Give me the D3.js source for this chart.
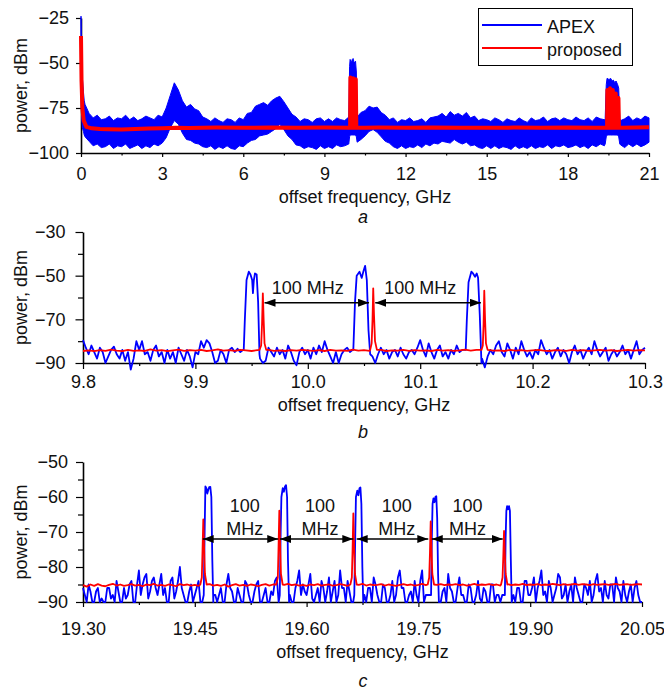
<!DOCTYPE html>
<html>
<head>
<meta charset="utf-8">
<script src="https://cdn.jsdelivr.net/npm/d3@7"></script>
<style>
  body { margin: 0; background: #fff; }
</style>
</head>
<body>
<div id="chart"></div>
<script>
// ---------- panel a: full span 0..21 GHz (noise band envelopes, 0.15 GHz grid) ----------
const aGridStep = 0.15;
const aApexHi = [
  -73,-78,-80.5,-79,-81.5,-81,-79.5,-82,-80.5,-81,
  -79,-81.5,-80,-82,-81,-79.5,-80.5,-81.5,-79,-80,
  -75,-68,-61,-65,-71,-74.5,-73,-75.5,-76.5,-80,
  -81,-82.5,-80.5,-82,-83,-81,-81.5,-83,-80.5,-81.5,
  -78,-77.5,-74,-73,-72,-73.5,-71,-69.5,-68.5,-71.5,
  -75,-78.5,-80,-82.5,-81,-81.5,-83,-81,-80.5,-82.5,
  -81,-82.5,-80.5,-81.5,-82,-80,-80,-81,-77.5,-76.5,
  -74,-75,-74.5,-77.5,-79,-81.5,-80.5,-83,-81.5,-82,
  -80.5,-82.5,-82,-81,-83,-80.5,-80,-79.5,-78,-80,
  -77,-79,-78,-79.5,-77.5,-80.5,-79.5,-82,-81,-81.5,
  -82.5,-80.5,-81.5,-83,-81,-82,-82.5,-80.5,-82,-83,
  -80.5,-82,-81.5,-80,-82.5,-81,-80.5,-82,-80.5,-81.5,
  -82,-80,-81.5,-82,-80.5,-82.5,-80,-81,-81.5,-81,
  -81,-80,-82,-81,-79.5,-82,-80.5,-81.5,-79.5,-80.5
];
const aApexLo = [
  -91,-93.5,-96,-95,-97,-96.5,-95,-97.5,-96,-96.5,
  -95,-97.5,-96.5,-95.5,-97.5,-96,-97,-95,-96,-94.5,
  -91.5,-86,-82,-84,-89,-92.5,-93,-94.5,-95,-96.5,
  -97,-96,-98,-96.5,-97.5,-96,-97.5,-98,-96,-96.5,
  -94.5,-93,-92.5,-90.5,-90,-89.5,-88,-86.5,-84,-87,
  -90.5,-92.5,-95.5,-96,-97.5,-96.5,-97,-98,-96,-97.5,
  -96.5,-97.5,-95.5,-96.5,-96,-95,-94,-95,-92.5,-90.5,
  -88,-87,-88.5,-91,-93.5,-94.5,-96.5,-97.5,-96,-97.5,
  -96.5,-97,-95.5,-97,-95,-96,-94.5,-95,-93.5,-94,
  -94.5,-92.5,-94,-95,-94,-96,-95.5,-97,-97.5,-96,
  -97.5,-96,-97.5,-96.5,-97,-98,-96,-97.5,-96.5,-97.5,
  -96,-97.5,-96.5,-97,-95.5,-97.5,-96,-96.5,-95.5,-97,
  -96.5,-95.5,-97,-96,-97.5,-95.5,-96.5,-95,-96,-95.5,
  -95,-96,-95.5,-97,-95,-96.5,-95,-96.5,-95.5,-94
];
// near-zero carrier leakage
const aNearFreq = [0, 0.02, 0.05, 0.09, 0.12];
const aNearHi = [-24, -45, -58, -66, -71];
const aNearLo = [-60, -80, -86, -88, -90];
// spur clusters near 10 GHz and 19.5 GHz
const aSpurFreq = [9.90, 9.93, 9.95, 9.99, 10.03, 10.06, 10.10, 10.15, 10.18, 10.21,
  19.38, 19.42, 19.45, 19.50, 19.55, 19.58, 19.64, 19.68, 19.74, 19.78, 19.84, 19.88, 19.92];
const aSpurHi = [-80, -52, -48, -50, -48, -47.5, -50, -49, -55, -80,
  -81, -62, -58.5, -59, -59, -58.5, -60, -59.5, -61, -60, -62, -64, -81];
const aSpurLo = [-95, -91, -90, -90, -90, -90, -90, -90, -91, -94,
  -95, -91, -90, -90, -90, -90, -90, -90, -90, -90, -90, -91, -95];
// proposed (red)
const aPropFreq = [0, 0.02, 0.05, 0.1, 0.2, 0.4, 0.7, 1.0, 1.5, 2.0,
  2.5, 3.0, 3.5, 4.0, 5.0, 6.0, 7.0, 8.0, 9.0, 9.93,
  9.95, 9.96, 9.98, 10.04, 10.06, 10.08, 10.14, 10.16, 10.18, 10.5,
  11, 12, 13, 14, 15, 16, 17, 18, 19, 19.43,
  19.45, 19.46, 19.48, 19.54, 19.56, 19.58, 19.64, 19.66, 19.68, 19.75,
  19.77, 19.79, 19.85, 19.87, 19.89, 20.0, 20.5, 21.0];
const aProp = [-35, -60, -75, -82, -85.5, -86.3, -86.7, -86.8, -86.9, -86.7,
  -86.4, -86.2, -86, -86.1, -85.9, -86, -85.8, -86, -85.9, -86,
  -86, -58, -86, -86, -58.5, -86, -86, -59, -86, -86,
  -85.9, -86, -85.8, -86, -86, -85.9, -86, -85.8, -86, -86,
  -86, -65, -86, -86, -64, -86, -86, -65, -86, -86,
  -67, -86, -86, -69.5, -86, -86, -85.8, -85.7];

// ---------- panel b: 9.8..10.3 GHz ----------
const bGridStep = 0.0025;
const bApex = [
  -79.5,-83,-86,-82,-85,-88,-83,-85,-90,-87,
  -84,-82.5,-86,-88,-84,-89,-85,-93,-88,-80,
  -84,-80,-86,-85,-89,-84,-82,-87,-85,-90,
  -84,-88,-85,-90,-83,-86,-89,-84,-87,-92,
  -85,-86,-80,-83,-79.5,-81,-85,-90,-89,-84,
  -86,-90,-84,-83,-85,-83.5,-85,-84,-85,-85,
  -85,-85,-85,-88,-90,-89,-83,-85,-87,-83,
  -86,-84,-88,-82,-85,-89,-91,-85,-83,-86,
  -84,-88,-83,-86,-82,-85,-80,-84,-87,-90,
  -85,-90,-86,-84,-83,-85,-84,-85,-85,-85,
  -85,-85,-85,-87,-90,-86,-83,-86,-84,-88,
  -85,-84,-87,-83,-86,-88,-85,-84,-86,-83,
  -79.5,-84,-87,-81,-85,-88,-84,-82,-87,-85,
  -88,-84,-86,-82,-85,-84,-84,-85,-85,-85,
  -85,-85,-88,-92,-87,-84,-86,-82,-80,-85,
  -87,-81,-84,-88,-83,-86,-80,-84,-87,-85,
  -88,-84,-86,-79.5,-83,-86,-84,-88,-85,-83,
  -87,-84,-86,-90,-85,-82,-86,-84,-88,-85,
  -83,-86,-80,-84,-87,-85,-83,-89,-86,-84,
  -87,-85,-82,-86,-84,-88,-84,-80,-86,-84,
  -83
];
const bApexPeakFreq = [9.9430, 9.9440, 9.9455, 9.9475, 9.9490, 9.9505, 9.9512, 9.9520, 9.9530, 9.9545, 9.9558, 9.9570,
  10.0405, 10.0420, 10.0435, 10.0460, 10.0480, 10.0495, 10.0510, 10.0525, 10.0540, 10.0555,
  10.1405, 10.1415, 10.1430, 10.1455, 10.1470, 10.1488, 10.1503, 10.1515, 10.1530, 10.1545];
const bApexPeak = [-84, -70, -52, -48.2, -49.5, -52, -58, -52, -49, -49.5, -62, -86,
  -84, -62, -50, -48.2, -51, -48, -45.5, -52, -75, -86,
  -84, -70, -53, -48.2, -49, -50.5, -49, -51, -68, -90];
const bPropStep = 0.005;
const bProp = [
  -84.5,-84.2,-84.6,-84.1,-84.4,-83.9,-84.3,-84.6,-84.0,-84.4,
  -84.2,-84.5,-83.8,-84.3,-84.1,-84.6,-84.2,-83.9,-84.4,-84.1,
  -84.3,-84.0,-84.5,-84.2,-83.8,-84.3,-84.1,-84.4,-84.0,-84.2,
  -84.5,-84.1,-84.3,-84.0,-84.4,-84.2,-84.5,-84.1,-84.3,-84.0,
  -84.2,-84.4,-84.1,-84.5,-84.0,-84.3,-84.2,-84.4,-83.9,-84.3,
  -84.1,-84.4,-84.2,-84.0,-84.5,-84.2,-84.3,-84.0,-84.4,-84.1,
  -84.3,-84.2,-84.5,-84.0,-84.3,-84.1,-84.4,-84.2,-83.9,-84.3,
  -84.0,-84.4,-84.1,-84.3,-84.2,-84.5,-84.0,-84.3,-84.1,-84.4,
  -84.2,-84.0,-84.3,-84.5,-84.1,-84.2,-84.4,-84.0,-84.3,-84.1,
  -84.4,-84.2,-84.0,-84.3,-84.1,-84.5,-84.2,-84.0,-84.3,-84.1,
  -84.2
];
const bPropPeakFreq = [9.9570, 9.9585, 9.9593, 9.9600, 9.9607, 9.9615, 9.9630,
  10.0555, 10.0568, 10.0576, 10.0582, 10.0589, 10.0598, 10.0615,
  10.1545, 10.1557, 10.1564, 10.1570, 10.1577, 10.1585, 10.1600];
const bPropPeak = [-84, -82, -72, -58.1, -70, -81, -84,
  -84, -81, -70, -55.8, -68, -80, -84,
  -84, -82, -72, -56.9, -70, -81, -84];
const bArrowStart = [9.9615, 10.0600];
const bArrowEnd = [10.0545, 10.1540];
const bArrowDb = -62.4;
const bLabelFreq = [10.000, 10.100];
const bLabelDb = -58.4;

// ---------- panel c: 19.30..20.05 GHz ----------
const cGridStep = 0.0025;
const cApex = [
  -86,-88,-90,-85,-87,-90,-90,-87,-86,-90,-89,-90,-90,-86,-86,-89,-88,-90,-84,-87,
  -90,-90,-86,-89,-88,-85,-84,-90,-90,-85,-81,-88,-85,-83,-82,-89,-87,-84,-83,-86,
  -88,-85,-82,-88,-86,-90,-90,-84,-83,-89,-87,-84,-80,-86,-88,-90,-90,-87,-85,-90,
  -88,-86,-84,-90,-90,-90,-88,-88,-88,-88,-88,-88,-90,-88,-86,-90,-90,-85,-82,-86,
  -87,-90,-90,-86,-88,-90,-90,-84,-85,-88,-90,-90,-87,-85,-84,-90,-90,-88,-86,-90,
  -90,-87,-88,-84,-83,-90,-88,-88,-88,-88,-88,-88,-90,-90,-86,-84,-81,-88,-85,-87,
  -88,-85,-82,-89,-90,-88,-86,-90,-84,-86,-90,-87,-83,-90,-87,-84,-90,-88,-81,-86,
  -86,-90,-84,-87,-90,-90,-88,-88,-88,-88,-88,-88,-90,-86,-86,-90,-83,-85,-88,-90,
  -90,-85,-86,-90,-90,-88,-84,-90,-88,-83,-81,-86,-86,-90,-90,-88,-87,-90,-84,-88,
  -90,-84,-81,-90,-88,-88,-88,-88,-88,-88,-88,-88,-90,-87,-86,-90,-82,-86,-87,-90,
  -90,-86,-83,-88,-88,-90,-90,-85,-86,-90,-90,-88,-84,-89,-90,-86,-87,-90,-90,-85,
  -85,-90,-88,-88,-90,-88,-88,-88,-88,-88,-88,-88,-90,-86,-86,-90,-90,-84,-84,-88,
  -88,-86,-83,-90,-86,-84,-81,-88,-87,-90,-84,-86,-90,-88,-86,-82,-83,-89,-88,-85,
  -90,-87,-85,-90,-83,-86,-88,-90,-90,-85,-86,-88,-84,-90,-88,-84,-82,-87,-86,-90,
  -84,-88,-89,-85,-85,-90,-83,-86,-87,-90,-84,-88,-90,-87,-85,-90,-86,-84,-88,-90,
  -90
];
const cApexPeakFreq = [19.4620, 19.4632, 19.4642, 19.4655, 19.4668, 19.4680, 19.4693, 19.4708, 19.4722, 19.4735, 19.4748,
  19.5640, 19.5652, 19.5662, 19.5680, 19.5695, 19.5710, 19.5724, 19.5738, 19.5750, 19.5765,
  19.6640, 19.6652, 19.6662, 19.6680, 19.6695, 19.6710, 19.6722, 19.6735, 19.6748, 19.6760,
  19.7670, 19.7680, 19.7690, 19.7702, 19.7715, 19.7728, 19.7740, 19.7752, 19.7764, 19.7775,
  19.8660, 19.8670, 19.8680, 19.8690, 19.8703, 19.8716, 19.8728, 19.8740, 19.8752];
const cApexPeak = [-88, -70, -57, -57.5, -59, -58, -57.2, -57.1, -60, -78, -90,
  -88, -70, -60, -57.5, -58.5, -57, -56.6, -60, -78, -90,
  -88, -72, -60, -58.2, -59.5, -57.5, -57.3, -62, -80, -90,
  -88, -72, -62, -60.4, -61.5, -60, -59.8, -66, -82, -90,
  -88, -72, -64, -62.6, -63.5, -62.6, -64, -78, -90];
const cPropStep = 0.005;
const cProp = [
  -85.2,-85.6,-85.0,-85.4,-84.9,-85.3,-85.5,-85.1,-84.8,-85.3,
  -85.0,-85.4,-85.2,-84.9,-85.3,-85.1,-85.5,-85.0,-85.2,-84.8,
  -85.3,-85.1,-85.4,-85.0,-85.2,-85.5,-84.9,-85.2,-85.0,-85.3,
  -85.1,-85.4,-85.0,-85.2,-84.9,-85.3,-85.1,-85.4,-85.0,-85.6,
  -85.2,-84.9,-85.3,-85.1,-85.4,-85.0,-85.2,-85.5,-85.1,-84.9,
  -85.3,-85.0,-85.2,-85.4,-85.1,-84.8,-85.2,-85.0,-85.3,-85.1,
  -85.4,-85.0,-85.2,-84.9,-85.3,-85.1,-85.0,-85.3,-85.2,-84.9,
  -85.1,-85.4,-85.0,-85.2,-85.1,-84.8,-85.3,-85.0,-85.2,-85.1,
  -84.9,-85.3,-85.0,-85.2,-85.4,-85.1,-84.9,-85.2,-85.0,-85.3,
  -85.1,-84.8,-85.2,-85.0,-85.3,-85.1,-84.9,-85.2,-85.0,-85.1,
  -84.9,-85.2,-85.0,-85.3,-85.1,-84.8,-85.2,-85.0,-85.1,-84.9,
  -85.2,-85.0,-85.3,-85.1,-84.9,-85.2,-85.0,-85.1,-84.8,-85.2,
  -85.0,-85.1,-84.9,-85.2,-85.0,-85.1,-84.8,-85.0,-85.2,-84.9,
  -85.1,-85.0,-84.8,-85.1,-84.9,-85.0,-85.2,-84.9,-85.1,-85.0,
  -84.9,-85.1,-85.0,-84.8,-85.1,-85.0,-84.9,-85.1,-85.0,-84.9,
  -85.0
];
const cPropPeakFreq = [19.4574, 19.4594, 19.4604, 19.4614, 19.4624, 19.4636, 19.4659,
  19.5594, 19.5614, 19.5624, 19.5634, 19.5644, 19.5656, 19.5679,
  19.6587, 19.6607, 19.6617, 19.6627, 19.6637, 19.6649, 19.6672,
  19.7625, 19.7645, 19.7655, 19.7665, 19.7675, 19.7687, 19.7710,
  19.8609, 19.8629, 19.8639, 19.8649, 19.8659, 19.8671, 19.8694];
const cPropPeak = [-85, -83, -75, -66.4, -74, -82, -85,
  -85, -83, -74, -63.9, -73, -82, -85,
  -85, -83, -75, -64.7, -74, -82, -85,
  -85, -83, -76, -67, -75, -82, -85,
  -85, -83, -77, -69.7, -76, -82, -85];
const cArrowStart = [19.4606, 19.5643, 19.6672, 19.7679];
const cArrowEnd = [19.5620, 19.6627, 19.7633, 19.8631];
const cArrowDb = -72;
const cLabelFreq = [19.517, 19.618, 19.721, 19.816];
const cLabelTopDb = -64.2;
const cLabelBotDb = -70.9;

// ---------- ticks ----------
const aXTicks = [0, 3, 6, 9, 12, 15, 18, 21];
const aXMinor = [1.5, 4.5, 7.5, 10.5, 13.5, 16.5, 19.5];
const aYTicks = [-100, -75, -50, -25];
const bXTicks = [9.8, 9.9, 10.0, 10.1, 10.2, 10.3];
const bXLabels = ["9.8", "9.9", "10.0", "10.1", "10.2", "10.3"];
const bXMinor = [9.85, 9.95, 10.05, 10.15, 10.25];
const bYTicks = [-90, -70, -50, -30];
const bYMinor = [-80, -60, -40];
const cXTicks = [19.30, 19.45, 19.60, 19.75, 19.90, 20.05];
const cXLabels = ["19.30", "19.45", "19.60", "19.75", "19.90", "20.05"];
const cXMinor = [19.375, 19.525, 19.675, 19.825, 19.975];
const cYTicks = [-90, -80, -70, -60, -50];
const cYMinor = [-85, -75, -65, -55];

const blue = "#0000ff", red = "#ff0000";
const font = "'Liberation Sans', Arial, Helvetica, sans-serif";
const minus = d => (d < 0 ? "\u2212" + Math.abs(d) : String(d));

const svg = d3.select("#chart").append("svg")
    .attr("width", 664)
    .attr("height", 691)
    .style("font-family", font);

svg.append("rect").attr("width", 664).attr("height", 691).attr("fill", "#fff");

const defs = svg.append("defs");
defs.append("marker")
    .attr("id", "head")
    .attr("viewBox", "0 0 11 8")
    .attr("refX", 11).attr("refY", 4)
    .attr("markerWidth", 11).attr("markerHeight", 8)
    .attr("markerUnits", "userSpaceOnUse")
    .attr("orient", "auto-start-reverse")
  .append("path")
    .attr("d", "M0,0L11,4L0,8Z")
    .attr("fill", "#000");

// merge a base grid with detailed peak points, dropping grid points inside each peak
function merge(base, peaks, gap) {
  const wins = [];
  peaks.forEach((p, i) => {
    if (i === 0 || p.f - peaks[i - 1].f > gap) wins.push([p.f, p.f]);
    else wins[wins.length - 1][1] = p.f;
  });
  return base.filter(p => !wins.some(w => p.f >= w[0] && p.f <= w[1]))
    .concat(peaks)
    .sort((a, b) => a.f - b.f);
}

function drawAxes(x, y, o) {
  const y0 = y.range()[0];
  const x0 = x.range()[0];

  if (o.xMinor) {
    svg.append("g").attr("transform", `translate(0,${y0})`)
      .call(d3.axisBottom(x).tickValues(o.xMinor).tickSize(o.xMinorLen).tickFormat("").tickSizeOuter(0))
      .call(g => g.select(".domain").remove())
      .call(g => g.selectAll("line").attr("stroke", "#000").attr("stroke-width", 1.2));
  }
  if (o.yMinor) {
    svg.append("g").attr("transform", `translate(${x0},0)`)
      .call(d3.axisLeft(y).tickValues(o.yMinor).tickSize(o.yMinorLen).tickFormat("").tickSizeOuter(0))
      .call(g => g.select(".domain").remove())
      .call(g => g.selectAll("line").attr("stroke", "#000").attr("stroke-width", 1.2));
  }

  const gx = svg.append("g").attr("transform", `translate(0,${y0})`)
    .call(d3.axisBottom(x).tickValues(o.xTicks).tickSize(o.xLen).tickPadding(o.xPad)
      .tickSizeOuter(0).tickFormat((d, i) => o.xLabels[i]));
  const gy = svg.append("g").attr("transform", `translate(${x0},0)`)
    .call(d3.axisLeft(y).tickValues(o.yTicks).tickSize(o.yLen).tickPadding(o.yPad)
      .tickSizeOuter(0).tickFormat(minus));

  [gx, gy].forEach(g => {
    g.attr("font-family", font).attr("font-size", 18);
    g.select(".domain").attr("stroke", "#000").attr("stroke-width", 1.6);
    g.selectAll(".tick line").attr("stroke", "#000").attr("stroke-width", 1.2);
    g.selectAll(".tick text").attr("fill", "#111");
  });

  const xm = (x.range()[0] + x.range()[1]) / 2;
  svg.append("text")
    .attr("x", xm).attr("y", o.titleY)
    .attr("text-anchor", "middle")
    .attr("font-size", 18).attr("fill", "#111")
    .text("offset frequency, GHz");

  svg.append("text")
    .attr("transform", `translate(27,${(y.range()[0] + y.range()[1]) / 2}) rotate(-90)`)
    .attr("text-anchor", "middle")
    .attr("font-size", 18).attr("fill", "#111")
    .text("power, dBm");

  svg.append("text")
    .attr("x", 363).attr("y", o.letterY)
    .attr("text-anchor", "middle")
    .attr("font-size", 18).attr("font-style", "italic").attr("fill", "#111")
    .text(o.letter);
}

function drawArrows(x, y, starts, ends, db) {
  svg.append("g")
    .selectAll("line")
    .data(starts)
    .join("line")
      .attr("x1", d => x(d))
      .attr("x2", (d, i) => x(ends[i]))
      .attr("y1", y(db))
      .attr("y2", y(db))
      .attr("stroke", "#000")
      .attr("stroke-width", 1.6)
      .attr("marker-start", "url(#head)")
      .attr("marker-end", "url(#head)");
}

// ================= panel a =================
const xa = d3.scaleLinear().domain([0, 21]).range([81, 649]);
const ya = d3.scaleLinear().domain([-100, -25]).range([153, 18]);

drawAxes(xa, ya, {
  xTicks: aXTicks, xLabels: aXTicks.map(String), xMinor: aXMinor, xLen: 4, xMinorLen: 2.5, xPad: 10,
  yTicks: aYTicks, yLen: 5, yPad: 7,
  titleY: 203, letterY: 223, letter: "a"
});

const aGrid = d3.range(aGridStep, 21.0001, aGridStep);
const aBase = aGrid.map((f, i) => ({ f, hi: aApexHi[i], lo: aApexLo[i] }));
const aNear = aNearFreq.map((f, i) => ({ f, hi: aNearHi[i], lo: aNearLo[i] }));
const aSpur = aSpurFreq.map((f, i) => ({ f, hi: aSpurHi[i], lo: aSpurLo[i] }));
const aBand = aNear.concat(merge(aBase, aSpur, 0.5));

svg.append("path")
    .datum(aBand)
    .attr("fill", blue)
    .attr("stroke", blue)
    .attr("stroke-width", 1)
    .attr("d", d3.area()
      .x(d => xa(d.f))
      .y0(d => ya(d.lo))
      .y1(d => ya(d.hi)));

svg.append("path")
    .datum(aPropFreq.map((f, i) => ({ f, v: aProp[i] })))
    .attr("fill", "none")
    .attr("stroke", red)
    .attr("stroke-width", 4)
    .attr("stroke-linejoin", "round")
    .attr("d", d3.line().x(d => xa(d.f)).y(d => ya(d.v)));

// legend
const legend = svg.append("g");
legend.append("rect")
    .attr("x", 478.5).attr("y", 8.5).attr("width", 154).attr("height", 57)
    .attr("fill", "#fff").attr("stroke", "#000").attr("stroke-width", 1);
[["APEX", blue, 25], ["proposed", red, 48]].forEach(([name, col, ly]) => {
  legend.append("line")
      .attr("x1", 482).attr("x2", 542).attr("y1", ly).attr("y2", ly)
      .attr("stroke", col).attr("stroke-width", 2);
  legend.append("text")
      .attr("x", 547).attr("y", ly + 8)
      .attr("font-size", 18).attr("fill", "#111")
      .text(name);
});

// ================= panel b =================
const xb = d3.scaleLinear().domain([9.8, 10.3]).range([83, 645]);
const yb = d3.scaleLinear().domain([-90, -30]).range([363, 232]);

drawAxes(xb, yb, {
  xTicks: bXTicks, xLabels: bXLabels, xMinor: bXMinor, xLen: 6, xMinorLen: 3, xPad: 6.5,
  yTicks: bYTicks, yMinor: bYMinor, yLen: 7.5, yMinorLen: 5, yPad: 10,
  titleY: 411, letterY: 438, letter: "b"
});

const lineB = d3.line().x(d => xb(d.f)).y(d => yb(d.v));
const bApexPts = merge(
  bApex.map((v, i) => ({ f: 9.8 + i * bGridStep, v })),
  bApexPeakFreq.map((f, i) => ({ f, v: bApexPeak[i] })), 0.01);
const bPropPts = merge(
  bProp.map((v, i) => ({ f: 9.8 + i * bPropStep, v })),
  bPropPeakFreq.map((f, i) => ({ f, v: bPropPeak[i] })), 0.01);

svg.append("path").datum(bApexPts)
    .attr("fill", "none").attr("stroke", blue).attr("stroke-width", 1.8)
    .attr("stroke-linejoin", "round").attr("d", lineB);
svg.append("path").datum(bPropPts)
    .attr("fill", "none").attr("stroke", red).attr("stroke-width", 1.8)
    .attr("stroke-linejoin", "round").attr("d", lineB);

drawArrows(xb, yb, bArrowStart, bArrowEnd, bArrowDb);
svg.append("g").selectAll("text")
    .data(bLabelFreq)
    .join("text")
      .attr("x", d => xb(d))
      .attr("y", yb(bLabelDb))
      .attr("text-anchor", "middle")
      .attr("font-size", 18).attr("fill", "#111")
      .text("100 MHz");

// ================= panel c =================
const xc = d3.scaleLinear().domain([19.30, 20.05]).range([83, 642]);
const yc = d3.scaleLinear().domain([-90, -50]).range([602, 462]);

drawAxes(xc, yc, {
  xTicks: cXTicks, xLabels: cXLabels, xMinor: cXMinor, xLen: 5, xMinorLen: 3, xPad: 15.5,
  yTicks: cYTicks, yMinor: cYMinor, yLen: 7, yMinorLen: 5, yPad: 8,
  titleY: 658, letterY: 687, letter: "c"
});

const lineC = d3.line().x(d => xc(d.f)).y(d => yc(d.v));
const cApexPts = merge(
  cApex.map((v, i) => ({ f: 19.30 + i * cGridStep, v })),
  cApexPeakFreq.map((f, i) => ({ f, v: cApexPeak[i] })), 0.01);
const cPropPts = merge(
  cProp.map((v, i) => ({ f: 19.30 + i * cPropStep, v })),
  cPropPeakFreq.map((f, i) => ({ f, v: cPropPeak[i] })), 0.01);

svg.append("path").datum(cApexPts)
    .attr("fill", "none").attr("stroke", blue).attr("stroke-width", 1.8)
    .attr("stroke-linejoin", "round").attr("d", lineC);
svg.append("path").datum(cPropPts)
    .attr("fill", "none").attr("stroke", red).attr("stroke-width", 1.8)
    .attr("stroke-linejoin", "round").attr("d", lineC);

drawArrows(xc, yc, cArrowStart, cArrowEnd, cArrowDb);
const cLabels = svg.append("g").selectAll("g")
    .data(cLabelFreq)
    .join("g");
cLabels.append("text")
    .attr("x", d => xc(d)).attr("y", yc(cLabelTopDb))
    .attr("text-anchor", "middle")
    .attr("font-size", 18).attr("fill", "#111")
    .text("100");
cLabels.append("text")
    .attr("x", d => xc(d)).attr("y", yc(cLabelBotDb))
    .attr("text-anchor", "middle")
    .attr("font-size", 18).attr("fill", "#111")
    .text("MHz");
</script>
</body>
</html>
